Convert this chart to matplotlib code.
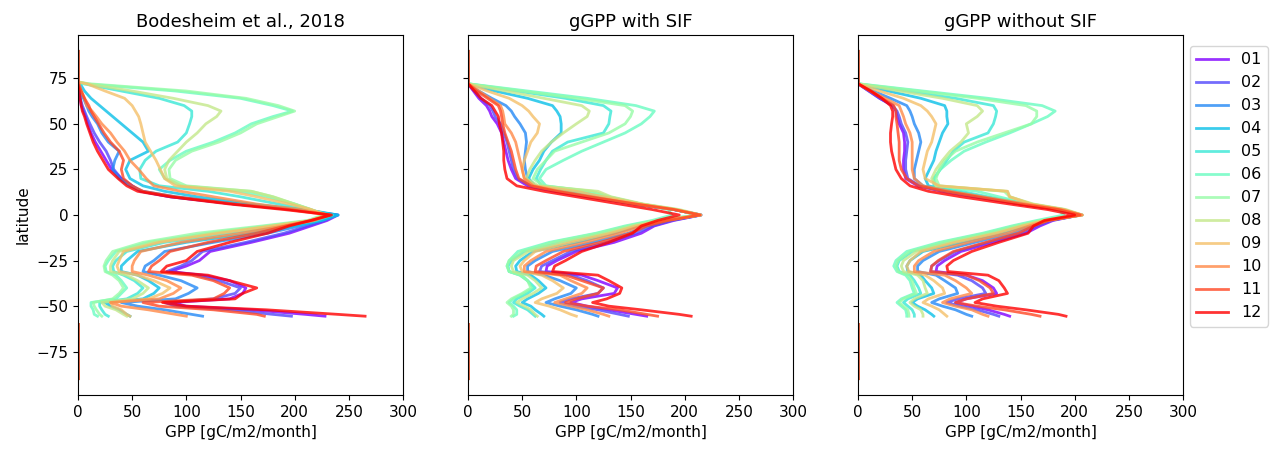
import numpy as np
import matplotlib
matplotlib.use("Agg")
import matplotlib.pyplot as plt

# latitude nodes (north -> south)
LAT = [72, 68, 64, 60, 57, 54, 50, 45, 40, 35, 30, 25, 20, 16, 13, 10, 6, 3, 0,
       -3, -6, -10, -15, -20, -25, -28, -31, -33, -36, -40, -43, -46, -48, -50, -52, -54.5, -55.5]
MONTHS = ["01", "02", "03", "04", "05", "06", "07", "08", "09", "10", "11", "12"]
TITLES = ["Bodesheim et al., 2018", "gGPP with SIF", "gGPP without SIF"]

# Panel 1: Bodesheim et al., 2018
B01 = [0,1,2,3,5,7,9,12,16,21,26,31,40,50,58,85,145,200,240, 230,215,195,160,122,112,100,85,115,140,155,152,140,86,100,160,210,228]
B02 = [0,1,2,4,6,8,11,15,20,26,30,33,40,50,58,85,145,200,238, 228,212,190,155,115,105,95,82,110,130,150,145,125,80,90,140,180,197]
B03 = [0,2,5,8,10,13,18,22,28,38,34,32,38,48,60,90,150,205,240, 225,205,175,125,80,70,62,60,75,95,110,102,90,40,55,80,105,115]
B04 = [2,6,12,20,26,32,40,50,60,65,48,44,48,60,80,110,160,210,240, 225,200,160,100,55,45,40,40,55,65,75,70,60,25,30,38,45,48]
B05 = [5,40,75,98,105,105,103,100,92,72,62,57,58,75,120,150,185,212,235, 220,190,140,80,45,35,32,33,42,52,60,55,45,20,20,22,25,28]
B06 = [5,90,150,180,198,180,160,145,125,100,85,75,80,95,150,175,200,215,228, 215,175,120,65,35,28,25,26,35,40,45,40,35,12,12,14,15,18]
B07 = [10,100,155,185,200,185,165,150,130,105,90,84,85,100,160,180,200,215,226, 212,170,110,60,32,26,24,25,32,38,42,38,32,14,15,17,20,22]
B08 = [8,50,88,120,132,128,118,110,100,92,84,80,82,95,160,180,200,215,228, 215,178,125,70,38,32,30,30,45,55,65,60,50,22,25,35,42,45]
B09 = [8,25,43,50,53,56,58,60,62,67,72,76,80,90,140,165,195,215,230, 215,180,130,75,42,38,36,38,55,70,85,78,65,30,32,40,45,48]
B10 = [1,3,6,8,13,17,22,30,36,43,48,56,63,70,95,125,165,205,232, 218,190,150,95,58,52,50,50,65,82,95,88,75,30,40,65,90,100]
B11 = [0,3,6,10,12,15,19,24,30,38,42,40,42,50,60,90,145,195,232, 215,192,165,120,85,75,68,65,105,125,140,135,125,60,75,125,165,172]
B12 = [0,1,2,3,4,6,8,11,14,18,23,28,37,45,55,85,140,190,234, 215,195,175,140,110,100,82,77,120,140,165,152,145,78,100,174,240,265]

# Panel 2: gGPP with SIF
S01 = [0,5,10,17,20,22,27,31,33,35,37,40,44,55,80,110,155,190,215, 190,172,160,135,100,82,73,72,105,120,138,135,105,95,110,130,155,165]
S02 = [0,6,12,20,23,25,30,33,36,38,40,42,46,58,82,112,155,190,215, 188,170,155,128,95,78,68,66,95,110,125,120,95,85,100,120,140,148]
S03 = [0,10,22,35,40,43,48,53,54,53,52,53,55,62,85,115,155,190,215, 185,165,148,115,78,62,55,55,70,85,100,95,80,72,85,100,115,120]
S04 = [0,25,55,78,82,85,86,86,77,70,66,60,56,62,90,115,155,190,215, 180,158,135,100,60,48,44,45,58,65,72,65,55,50,58,62,68,70]
S05 = [0,45,90,125,132,131,130,125,92,78,72,67,63,68,100,125,160,192,212, 175,150,125,85,52,40,37,38,48,55,62,55,45,42,48,55,60,62]
S06 = [0,55,110,155,172,168,160,145,125,105,88,72,66,72,110,130,160,185,188, 170,145,118,75,46,38,36,38,50,55,60,52,42,38,42,45,45,42]
S07 = [0,50,100,145,152,150,145,130,105,80,72,64,60,70,115,130,160,192,212, 172,148,120,78,50,38,36,38,48,55,58,50,40,36,40,42,42,40]
S08 = [0,35,70,105,112,110,100,88,77,68,62,57,54,65,120,132,162,195,215, 178,152,128,88,56,42,40,42,55,62,68,60,50,45,52,58,62,64]
S09 = [0,18,38,50,56,60,66,64,58,55,52,50,52,62,100,125,160,192,215, 180,155,132,95,62,52,48,50,68,78,88,82,68,62,75,85,95,100]
S10 = [0,10,20,30,32,33,34,40,44,46,48,50,52,60,85,115,155,190,215, 182,160,140,108,72,58,52,52,85,95,110,105,90,80,95,110,125,130]
S11 = [0,8,18,28,30,31,32,34,37,40,42,44,47,58,82,112,155,190,214, 185,165,150,122,88,72,63,62,90,105,125,120,100,90,110,140,165,175]
S12 = [0,6,12,22,25,28,29,31,32,33,33,34,36,45,70,100,140,170,195, 175,160,152,130,105,90,80,78,120,130,142,140,128,115,130,160,195,206]

# Panel 3: gGPP without SIF
N01 = [0,10,20,32,35,36,38,42,43,43,42,42,44,55,78,108,150,185,205, 180,168,155,125,95,80,73,72,100,115,125,128,100,90,105,120,135,140]
N02 = [0,10,20,32,36,38,40,44,46,45,44,44,46,57,80,110,150,185,205, 178,165,150,120,90,75,68,67,92,105,115,118,92,82,95,110,125,130]
N03 = [0,14,30,45,48,50,52,56,58,56,54,52,52,60,82,112,152,186,206, 176,160,142,108,75,60,55,55,72,80,90,92,75,68,78,90,100,105]
N04 = [0,28,58,80,82,82,83,78,75,72,70,66,62,65,88,115,155,188,207, 172,155,132,96,60,48,45,46,58,62,68,70,55,50,55,62,68,70]
N05 = [0,45,90,125,128,127,125,120,98,88,82,76,70,70,95,120,158,190,205, 170,148,120,82,50,38,36,38,48,52,56,58,46,42,46,50,52,52]
N06 = [0,60,120,170,182,175,160,140,118,98,86,76,70,72,110,130,158,185,190, 165,142,115,75,45,35,33,36,44,48,50,52,40,36,40,44,45,45]
N07 = [0,55,110,155,165,165,160,135,110,90,80,75,72,75,135,140,160,190,204, 168,145,118,78,48,37,35,37,46,50,52,54,42,38,42,46,47,47]
N08 = [0,38,78,110,115,110,100,102,95,85,78,72,68,72,138,140,162,192,207, 172,150,125,86,54,42,40,42,55,60,62,64,52,48,52,58,60,60]
N09 = [0,20,42,58,64,68,72,70,68,64,62,60,62,75,138,140,160,190,207, 172,152,128,90,58,48,45,47,62,70,78,80,65,60,68,75,80,82]
N10 = [0,12,25,38,40,42,44,48,50,50,50,50,52,60,85,115,155,188,207, 175,158,138,102,70,56,52,52,80,90,100,105,85,78,90,105,115,120]
N11 = [0,11,22,33,35,35,36,37,38,38,38,40,45,56,80,110,150,185,205, 176,162,148,118,88,74,68,67,100,112,122,125,100,90,110,135,160,168]
N12 = [0,12,22,30,32,32,31,30,30,31,33,35,40,48,65,95,140,175,200, 172,162,157,130,105,88,82,83,120,130,135,138,115,108,128,155,185,192]

# zero rows at polar latitudes (no vegetation)
NORTH_LAT = [89.75, 73]
SOUTH_LAT = [-57, -60, -89.75]
NORTH_VAL = [0, 0]
SOUTH_VAL = [np.nan, 0, 0]

PANELS = [
    [B01, B02, B03, B04, B05, B06, B07, B08, B09, B10, B11, B12],
    [S01, S02, S03, S04, S05, S06, S07, S08, S09, S10, S11, S12],
    [N01, N02, N03, N04, N05, N06, N07, N08, N09, N10, N11, N12],
]

plt.rcParams["font.family"] = "DejaVu Sans"
fig = plt.figure(figsize=(12.75, 4.5), dpi=100)
colors = plt.cm.rainbow(np.linspace(0, 1, 12))

lefts = [78 / 1275, 468 / 1275, 858 / 1275]
axes = []
for p, left in enumerate(lefts):
    if p == 0:
        ax = fig.add_axes([left, 55 / 450, 325 / 1275, 360 / 450])
    else:
        ax = fig.add_axes([left, 55 / 450, 325 / 1275, 360 / 450], sharey=axes[0])
    axes.append(ax)
    lat_full = NORTH_LAT + LAT + SOUTH_LAT
    for m, vals in enumerate(PANELS[p]):
        v = NORTH_VAL + list(vals) + SOUTH_VAL
        ax.plot(v, lat_full, color=colors[m], lw=2, alpha=0.8, label=MONTHS[m])
    ax.set_xlim(0, 300)
    ax.set_xticks([0, 50, 100, 150, 200, 250, 300])
    ax.set_yticks([-75, -50, -25, 0, 25, 50, 75])
    ax.set_title(TITLES[p], fontsize=13)
    ax.set_xlabel("GPP [gC/m2/month]", fontsize=11)
    ax.tick_params(labelsize=11)
    if p == 0:
        ax.set_ylabel("latitude", fontsize=11)
    else:
        ax.tick_params(labelleft=False)

handles, labels = axes[0].get_legend_handles_labels()
fig.legend(handles, labels, loc="upper left", bbox_to_anchor=(1190 / 1275, 1 - 46 / 450),
           fontsize=11.5, borderaxespad=0, handlelength=2)

fig.savefig("out.png", dpi=100)
